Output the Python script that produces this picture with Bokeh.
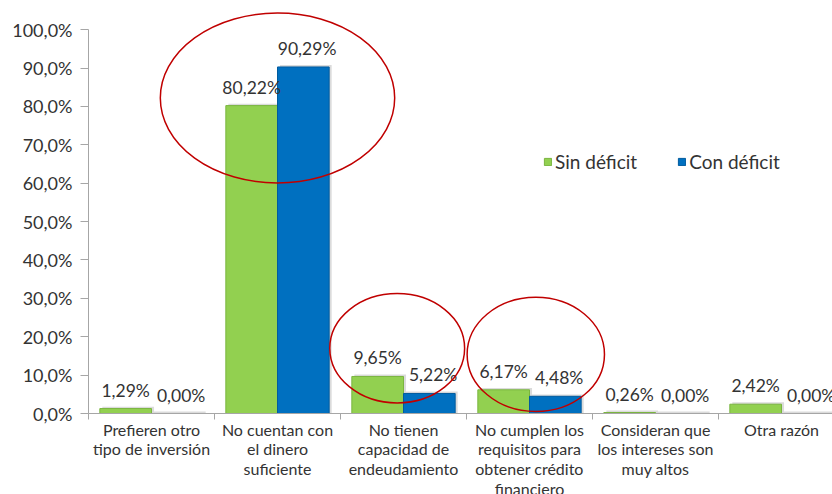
from bokeh.plotting import figure
from bokeh.models import Range1d, FixedTicker, Legend, LegendItem
from bokeh.embed import file_html
from bokeh.resources import INLINE
from bokeh.core.properties import value

# ---- data ----
categories = [
    "Prefieren otro\ntipo de inversión",
    "No cuentan con\nel dinero\nsuficiente",
    "No tienen\ncapacidad de\nendeudamiento",
    "No cumplen los\nrequisitos para\nobtener crédito\nfinanciero",
    "Consideran que\nlos intereses son\nmuy altos",
    "Otra razón",
]
sin_deficit = [1.29, 80.22, 9.65, 6.17, 0.26, 2.42]
con_deficit = [0.00, 90.29, 5.22, 4.48, 0.00, 0.00]
series_names = ["Sin déficit", "Con déficit"]
y_ticks = [0, 10, 20, 30, 40, 50, 60, 70, 80, 90, 100]
y_tick_labels = ["0,0%", "10,0%", "20,0%", "30,0%", "40,0%", "50,0%",
                 "60,0%", "70,0%", "80,0%", "90,0%", "100,0%"]

# highlighted groups (annotation ellipses): centre category, centre value, span
ell_x = [1.5, 2.45, 3.55]
ell_y = [82.2, 17.0, 15.4]
ell_w = [1.86, 1.07, 1.09]
ell_h = [44.3, 28.5, 29.8]

FONT = "Lato"
GREEN = "#92d050"
BLUE = "#0070c0"

n = len(categories)
centers = [i + 0.5 for i in range(n)]
bw = 0.41
off = 0.205
x_sin = [c - off for c in centers]
x_con = [c + off for c in centers]

def fmt(v):
    return ("%.2f%%" % v).replace(".", ",")

p = figure(
    frame_width=744, frame_height=403,
    x_range=Range1d(0, 744 / 126), y_range=Range1d(0, 105),
    output_backend="svg", toolbar_location=None,
    min_border_left=88, min_border_right=0, min_border_top=10, min_border_bottom=81,
)
p.outline_line_color = None
p.xgrid.grid_line_color = None
p.ygrid.grid_line_color = None
p.background_fill_color = "white"

# shadows
p.vbar(x=[x + 0.02 for x in x_sin], top=[v + 0.5 for v in sin_deficit], width=bw,
       fill_color="#999999", fill_alpha=0.35, line_color=None)
p.vbar(x=[x + 0.02 for x in x_con], top=[v + 0.5 for v in con_deficit], width=bw,
       fill_color="#999999", fill_alpha=0.35, line_color=None)

r1 = p.vbar(x=x_sin, top=sin_deficit, width=bw, fill_color=GREEN,
            line_color="#7ab53f", line_width=1)
r2 = p.vbar(x=x_con, top=con_deficit, width=bw, fill_color=BLUE,
            line_color="#005b9e", line_width=1)

# value labels
p.text(x=x_sin, y=sin_deficit, text=[fmt(v) for v in sin_deficit],
       text_align="center", text_baseline="bottom", y_offset=-8,
       text_font=value(FONT), text_font_size="17.5px", text_color="#333333")
p.text(x=[x + 0.03 for x in x_con], y=con_deficit, text=[fmt(v) for v in con_deficit],
       text_align="center", text_baseline="bottom", y_offset=-8,
       text_font=value(FONT), text_font_size="17.5px", text_color="#333333")

# red ellipses
p.ellipse(x=ell_x, y=ell_y, width=ell_w, height=ell_h,
          fill_color=None, line_color="#c00000", line_width=1.5)

# axes
xa = p.xaxis[0]
xa.ticker = FixedTicker(ticks=centers, minor_ticks=list(range(n + 1)))
xa.major_label_overrides = {c: lab for c, lab in zip(centers, categories)}
xa.major_tick_out = 0
xa.major_tick_in = 0
xa.minor_tick_out = 6
xa.minor_tick_in = 0
xa.minor_tick_line_color = "#a6a6a6"
xa.axis_line_color = "#a6a6a6"
xa.major_label_standoff = 0
xa.major_label_text_font = FONT
xa.major_label_text_font_size = "16px"
xa.major_label_text_line_height = 1.05
xa.major_label_text_color = "#333333"

ya = p.yaxis[0]
ya.ticker = FixedTicker(ticks=y_ticks, minor_ticks=[])
ya.major_label_overrides = {t: lab for t, lab in zip(y_ticks, y_tick_labels)}
ya.bounds = (0, 100)
ya.axis_line_color = "#a6a6a6"
ya.major_tick_line_color = "#a6a6a6"
ya.major_tick_out = 8
ya.major_tick_in = 0
ya.minor_tick_out = 0
ya.minor_tick_in = 0
ya.major_label_standoff = 8
ya.major_label_text_font = FONT
ya.major_label_text_font_size = "18px"
ya.major_label_text_color = "#333333"

legend = Legend(
    items=[LegendItem(label=series_names[0], renderers=[r1]),
           LegendItem(label=series_names[1], renderers=[r2])],
    orientation="horizontal", location=(455, 240),
    glyph_width=9, glyph_height=9, label_standoff=3, spacing=40,
    padding=0, margin=0, border_line_alpha=0, background_fill_alpha=0,
    label_text_font=FONT, label_text_font_size="19px", label_text_color="#333333",
)
p.add_layout(legend, "center")

open("out.html", "w").write(file_html(p, INLINE))
